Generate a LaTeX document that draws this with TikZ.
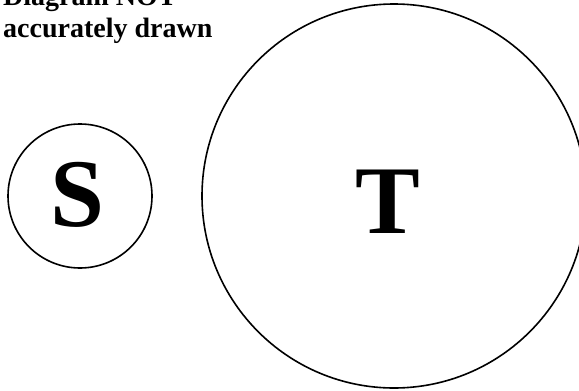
\documentclass[tikz,border=0pt]{standalone}
\usepackage{fontspec}
\setmainfont{Liberation Serif}
\begin{document}
\begin{tikzpicture}[x=1pt,y=-1pt,
  ring/.style={circle, draw=black, line width=1.6pt, inner sep=0pt},
  note/.style={anchor=base west, inner sep=0pt, font=\fontsize{28}{32}\selectfont\bfseries},
  big/.style={anchor=base, inner sep=0pt, font=\fontsize{97}{100}\selectfont\bfseries}]
\useasboundingbox (0,0) rectangle (579,391);
\node[note] (n1) at (3,5) {Diagram NOT};
\node[note] (n2) at (3,37) {accurately drawn};
\node[ring, minimum size=144pt] (S) at (80,196) {};
\node[ring, minimum size=384pt] (T) at (394,196) {};
\node[big] (Sl) at (77,226) {S};
\node[big] (Tl) at (388,233) {T};
\end{tikzpicture}
\end{document}
